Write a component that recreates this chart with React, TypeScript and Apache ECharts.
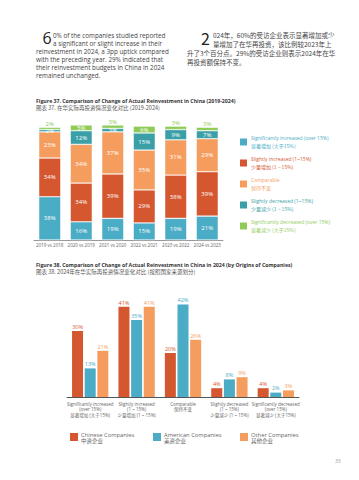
import React, { useEffect, useRef } from "react";
import * as echarts from "echarts";

// ---------- Figure 37 data ----------
const periods = ["2019 vs 2018", "2020 vs 2019", "2021 vs 2020", "2022 vs 2021", "2023 vs 2022", "2024 vs 2023"];
const sigIncreased = [38, 16, 19, 15, 19, 21];
const slightIncreased = [34, 34, 39, 29, 38, 39];
const comparableVals = [23, 34, 37, 35, 31, 29];
const slightDecreased = [2, 12, 3, 15, 9, 7];
const sigDecreased = [2, 5, 3, 6, 3, 3];
const changeNamesEn = [
  "Significantly increased (over 15%)",
  "Slightly increased (1~15%)",
  "Comparable",
  "Slightly decreased (1~15%)",
  "Significantly decreased (over 15%)",
];
const changeNamesZh = ["显著增加 (大于15%)", "少量增加 (1 ~ 15%)", "保持不变", "少量减少 (1 ~ 15%)", "显著减少 (大于15%)"];

// ---------- Figure 38 data ----------
const changeCategories = [
  "Significantly increased\n(over 15%)\n显著增加 (大于15%)",
  "Slightly increased\n(1 ~ 15%)\n少量增加 (1 ~ 15%)",
  "Comparable\n保持不变",
  "Slightly decreased\n(1 ~ 15%)\n少量减少 (1 ~ 15%)",
  "Significantly decreased\n(over 15%)\n显著减少 (大于15%)",
];
const chineseCompanies = [30, 41, 20, 4, 4];
const americanCompanies = [13, 35, 42, 8, 2];
const otherCompanies = [21, 41, 26, 9, 3];
const originNamesEn = ["Chinese Companies", "American Companies", "Other Companies"];
const originNamesZh = ["中资企业", "美资企业", "其他企业"];

// ---------- Text ----------
const paraEn = [
  "0% of the companies studied reported",
  "a significant or slight increase in their",
  "reinvestment in 2024, a 3pp uptick compared",
  "with the preceding year. 29% indicated that",
  "their reinvestment budgets in China in 2024",
  "remained unchanged.",
];
const paraZh = [
  "024年，60%的受访企业表示显著增加或少",
  "量增加了在华再投资，该比例较2023年上",
  "升了3个百分点。29%的受访企业则表示2024年在华",
  "再投资额保持不变。",
];
const title37En = "Figure 37. Comparison of Change of Actual Reinvestment in China (2019-2024)";
const title37Zh = "图表 37. 在华实际再投资情况变化对比 (2019-2024)";
const title38En = "Figure 38. Comparison of Change of Actual Reinvestment in China in 2024 (by Origins of Companies)";
const title38Zh = "图表 38. 2024年在华实际再投资情况变化对比 (按照国家来源划分)";
const pageNumber = "33";

const BLUE = "#4BACC6";
const RED = "#D4572F";
const ORANGE = "#F59D5E";
const TEAL = "#3B9FA8";
const GREEN = "#8FCB57";
const COLORS1 = [BLUE, RED, ORANGE, TEAL, GREEN];
const COLORS2 = [RED, BLUE, ORANGE];

const FONT = "'Open Sans', 'Noto Sans CJK SC', sans-serif";
const CJK = "'Noto Sans CJK SC', 'Open Sans', sans-serif";

function txt(text: string, x: number, y: number, size: number, fill: string, extra: any = {}) {
  return {
    type: "text",
    x,
    y,
    silent: true,
    style: { text, fontSize: size, fontFamily: FONT, fill, verticalAlign: "middle", align: "left", ...extra },
  };
}

export default function App() {
  const ref = useRef<HTMLDivElement>(null);
  useEffect(() => {
    const chart = echarts.init(ref.current!, null, { renderer: "svg" });

    const stackSeries = [sigIncreased, slightIncreased, comparableVals, slightDecreased, sigDecreased].map((vals, si) => ({
      type: "bar",
      name: changeNamesEn[si],
      stack: "total",
      xAxisIndex: 0,
      yAxisIndex: 0,
      barWidth: 22,
      itemStyle: { color: COLORS1[si], borderColor: "#fff", borderWidth: 0.5 },
      label: {
        show: true,
        position: "inside",
        color: "#fff",
        fontSize: 6,
        fontFamily: FONT,
        formatter: "{c}%",
      },
      data: vals.map((v) =>
        si === 4 && v <= 3
          ? { value: v, label: { position: "top", color: GREEN, distance: 0.5 } }
          : { value: v }
      ),
    }));

    const groupSeries = [chineseCompanies, americanCompanies, otherCompanies].map((vals, si) => ({
      type: "bar",
      name: originNamesEn[si],
      xAxisIndex: 1,
      yAxisIndex: 1,
      barWidth: 11,
      barGap: "15%",
      itemStyle: { color: COLORS2[si] },
      label: {
        show: true,
        position: "top",
        distance: 1.5,
        color: COLORS2[si],
        fontSize: 5.5,
        fontFamily: FONT,
        formatter: "{c}%",
      },
      data: vals,
    }));

    const graphics: any[] = [];
    // paragraphs
    graphics.push(txt("6", 42.5, 37.5, 16, "#222", { lineHeight: 11 }));
    paraEn.forEach((line, i) => {
      graphics.push(txt(line, i < 2 ? 53 : 36, 35 + i * 8, 6.3, "#444", { lineHeight: 7 }));
    });
    graphics.push(txt("2", 201, 37.5, 16, "#222", { fontFamily: CJK, lineHeight: 11 }));
    paraZh.forEach((line, i) => {
      graphics.push(txt(line, i < 2 ? 213 : 187, 35 + i * 9, 6.5, "#444", { fontFamily: CJK, lineHeight: 8 }));
    });
    // titles
    graphics.push(txt(title37En, 36, 101, 5.2, "#333", { fontWeight: "bold" }));
    graphics.push(txt(title37Zh, 36, 107.5, 5.5, "#555", { fontFamily: CJK }));
    graphics.push(txt(title38En, 36, 265, 5.2, "#333", { fontWeight: "bold" }));
    graphics.push(txt(title38Zh, 36, 271.5, 5.5, "#555", { fontFamily: CJK }));
    // legend 1
    changeNamesEn.forEach((en, i) => {
      const y0 = 138 + 21 * i;
      graphics.push({ type: "rect", silent: true, shape: { x: 240, y: y0 + 0.5, width: 7, height: 7 }, style: { fill: COLORS1[i] } });
      graphics.push(txt(en, 251, y0, 5, COLORS1[i]));
      graphics.push(txt(changeNamesZh[i], 251, y0 + 7.5, 5, COLORS1[i], { fontFamily: CJK }));
    });
    // legend 2
    const lx = [70, 153, 240];
    originNamesEn.forEach((en, i) => {
      graphics.push({ type: "rect", silent: true, shape: { x: lx[i], y: 433, width: 8, height: 8 }, style: { fill: COLORS2[i] } });
      graphics.push(txt(en, lx[i] + 11, 434.5, 5.8, "#666"));
      graphics.push(txt(originNamesZh[i], lx[i] + 11, 441, 5.5, "#666", { fontFamily: CJK }));
    });
    graphics.push(txt(pageNumber, 335, 461, 5, "#999"));

    chart.setOption({
      animation: false,
      backgroundColor: "#fff",
      textStyle: { fontFamily: FONT },
      grid: [
        { left: 34, top: 125, width: 189, height: 115 },
        { left: 67, top: 287, width: 232, height: 110 },
      ],
      xAxis: [
        {
          type: "category",
          gridIndex: 0,
          data: periods,
          axisLine: { lineStyle: { color: "#999", width: 1 } },
          axisTick: { show: false },
          axisLabel: { fontSize: 4.5, color: "#666", margin: 3, fontFamily: FONT, interval: 0 },
        },
        {
          type: "category",
          gridIndex: 1,
          data: changeCategories,
          axisLine: { lineStyle: { color: "#555", width: 1 } },
          axisTick: { show: false },
          axisLabel: { fontSize: 4.5, lineHeight: 5.6, color: "#666", margin: 4, fontFamily: FONT, interval: 0 },
        },
      ],
      yAxis: [
        { type: "value", gridIndex: 0, min: 0, max: 101, show: false },
        { type: "value", gridIndex: 1, min: 0, max: 50, show: false },
      ],
      series: [...stackSeries, ...groupSeries],
      graphic: graphics,
    });

    return () => chart.dispose();
  }, []);
  return (
    <div
      ref={ref}
      style={{ position: "absolute", left: 0, top: 0, width: 359, height: 480, background: "#fff" }}
    />
  );
}
